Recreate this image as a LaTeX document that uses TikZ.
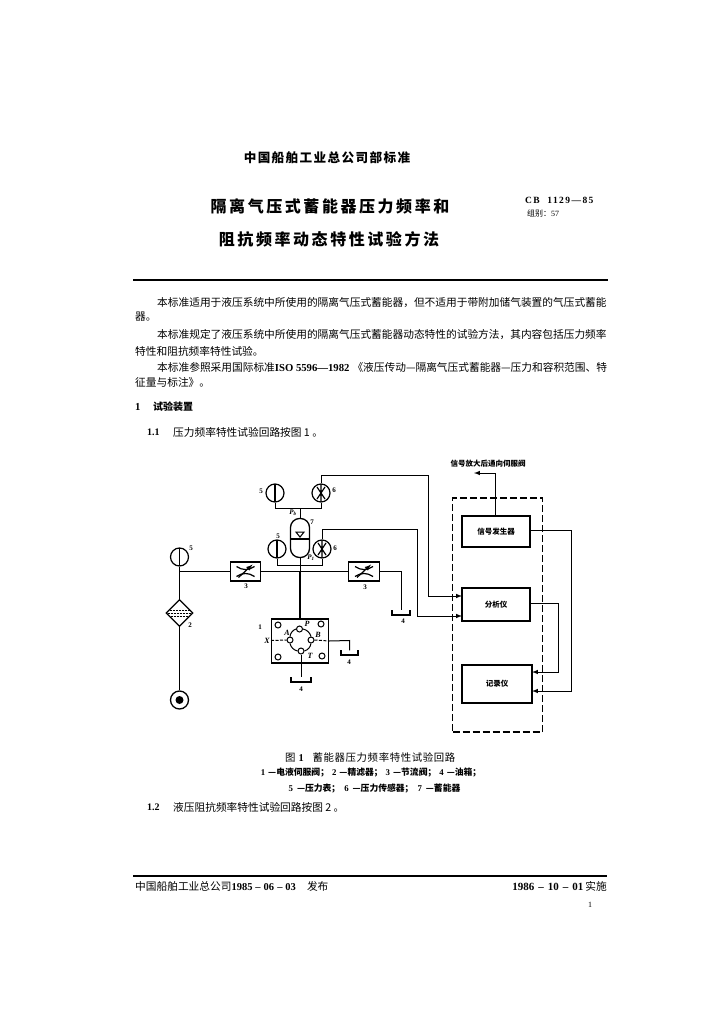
\documentclass[tikz,border=0pt]{standalone}
\usepackage{fontspec}
\setmainfont{Noto Sans CJK SC}
\newfontfamily\latfont{Liberation Serif}
\newfontfamily\codefont[LetterSpace=15]{Liberation Serif}
\newfontfamily\headfont[LetterSpace=11]{Noto Sans CJK SC}
\newfontfamily\titlefont[LetterSpace=16]{Noto Sans CJK SC}
\newfontfamily\capfont[LetterSpace=6]{Noto Sans CJK SC}
\newcommand{\dategap}[1]{\hspace{#1}–\hspace{#1}}
\usetikzlibrary{shapes.geometric}
\pgfdeclarelayer{bg}
\pgfsetlayers{bg,main}
\tikzset{
    body/.style={anchor=west, inner sep=0pt, font=\fontsize{10.7}{12}\selectfont},
    small/.style={anchor=center, inner sep=0pt, font=\bfseries\fontsize{8.8}{10}\selectfont},
    tag/.style={anchor=center, inner sep=0pt, font=\latfont\bfseries\fontsize{7}{8}\selectfont},
    port/.style={anchor=center, inner sep=0pt, font=\latfont\bfseries\itshape\fontsize{8}{9}\selectfont},
    wire/.style={line width=1pt},
    heavy/.style={line width=1.7pt},
    gauge/.style={circle, draw, line width=1.2pt, minimum size=18pt, inner sep=0pt,
        path picture={\draw[line width=1.5pt] (path picture bounding box.south) -- (path picture bounding box.north);}},
    sensor/.style={circle, draw, line width=1.2pt, minimum size=18pt, inner sep=0pt,
        path picture={\draw[line width=1.2pt, shift={(path picture bounding box.center)}]
            (-4,-6) -- (4,6) (4,-6) -- (-4,6) (0,-9) -- (0,9);}},
    throttle/.style={rectangle, draw, line width=1.3pt, minimum width=30.5pt, minimum height=19pt, inner sep=0pt,
        path picture={\draw[line width=1.2pt, shift={(path picture bounding box.center)}]
            (-9,-5) to[bend right=35] (9,-5) (-9,5) to[bend left=35] (9,5);
            \draw[line width=1.2pt, ->, >=latex, shift={(path picture bounding box.center)}] (-7,6) -- (7,-7);}},
    filterbox/.style={diamond, draw, line width=1.3pt, minimum width=27pt, minimum height=27pt, inner sep=0pt,
        path picture={\draw[line width=0.9pt, dashed, dash pattern=on 2pt off 1pt, shift={(path picture bounding box.center)}]
            (-10,-3) -- (10,-3) (-12,0) -- (12,0) (-9,3) -- (9,3);}},
    pump/.style={circle, draw, line width=1.3pt, minimum size=18pt, inner sep=0pt,
        path picture={\fill (path picture bounding box.center) circle (4pt);}},
    hole/.style={circle, draw, line width=1pt, minimum size=6pt, inner sep=0pt},
    tank/.style={minimum width=17pt, minimum height=4pt, inner sep=0pt},
    unit/.style={rectangle, draw, line width=1.5pt, inner sep=0pt, font=\fontsize{7.5}{9}\selectfont\bfseries},
}
\begin{document}
\begin{tikzpicture}[x=1pt, y=-1pt]
    \useasboundingbox (0,0) rectangle (724,1024);

    \node (head) [inner sep=0pt, font=\headfont\bfseries\fontsize{12.6}{14}\selectfont] at (327,158) {中国船舶工业总公司部标准};
    \node (title1) [inner sep=0pt, font=\titlefont\bfseries\fontsize{16}{18}\selectfont] at (330,206) {隔离气压式蓄能器压力频率和};
    \node (title2) [inner sep=0pt, font=\titlefont\bfseries\fontsize{16}{18}\selectfont] at (329,239) {阻抗频率动态特性试验方法};
    \node (code) [anchor=west, inner sep=0pt, font=\codefont\bfseries\fontsize{9.5}{10}\selectfont] at (525,200.5) {CB\ \ 1129—85};
    \node (group) [anchor=west, inner sep=0pt, font=\fontsize{8}{9}\selectfont] at (527,213) {组别：{\latfont 57}};

    \coordinate (rule1a) at (133,280);
    \coordinate (rule1b) at (608,280);
    \draw[heavy] (rule1a) -- (rule1b);

    \node (p1a) [body] at (157,303) {本标准适用于液压系统中所使用的隔离气压式蓄能器，但不适用于带附加储气装置的气压式蓄能};
    \node (p1b) [body] at (135,317) {器。};
    \node (p2a) [body] at (157,335) {本标准规定了液压系统中所使用的隔离气压式蓄能器动态特性的试验方法，其内容包括压力频率};
    \node (p2b) [body] at (135,351) {特性和阻抗频率特性试验。};
    \node (p3a) [body] at (157,367) {本标准参照采用国际标准{\latfont\bfseries ISO 5596—1982}\hspace{3pt}《液压传动—隔离气压式蓄能器—压力和容积范围、特};
    \node (p3b) [body] at (135,382) {征量与标注》。};
    \node (sec1) [body] at (135,407) {\latfont\bfseries 1};
    \node (sec1t) [body, font=\bfseries\fontsize{10}{12}\selectfont] at (153,407) {试验装置};
    \node (sec11) [body, font=\latfont\bfseries\fontsize{10}{12}\selectfont] at (147,432) {1.1};
    \node (sec11t) [body] at (173,432) {压力频率特性试验回路按图 1 。};

    \node (amp) [inner sep=0pt, font=\bfseries\fontsize{7.5}{8}\selectfont] at (488,464) {信号放大后通向伺服阀};

    \node (g5a) [gauge] at (275,493) {};
    \node (s6a) [sensor] at (321,493) {};
    \node (g5b) [gauge] at (277,549) {};
    \node (s6b) [sensor] at (322,549) {};
    \node (g5c) [gauge] at (179.5,557) {};
    \node (acc) [rectangle, draw, line width=1.3pt, rounded corners=9pt, minimum width=19pt, minimum height=39pt, inner sep=0pt] at (300,538) {};
    \node (bladder) [isosceles triangle, shape border rotate=-90, draw, line width=1pt, inner sep=0pt, isosceles triangle stretches, minimum width=8pt, minimum height=5pt] at (300,534) {};
    \node (v3a) [throttle] at (245.5,571.5) {};
    \node (v3b) [throttle] at (364,571.5) {};
    \node (flt) [filterbox] at (179.5,613) {};
    \node (pmp) [pump] at (179.5,700) {};
    \node (servo) [rectangle, draw, line width=1.4pt, minimum width=57pt, minimum height=44pt, inner sep=0pt] at (300,641) {};

    \node (h1) [hole] at (278,625) {};
    \node (h2) [hole] at (321,624) {};
    \node (h3) [hole] at (278,657) {};
    \node (h4) [hole] at (322,656) {};
    \node (pP) [hole] at (299.5,629) {};
    \node (pA) [hole] at (290,640) {};
    \node (pB) [hole] at (311,640) {};
    \node (pT) [hole] at (301,651) {};

    \node (t1) [tank] at (401,612.5) {};
    \node (t2) [tank] at (349.5,652.5) {};
    \node (t3) [tank, minimum width=20pt] at (301,679.5) {};

    \node (gen) [unit, minimum width=68pt, minimum height=31pt] at (496,531.5) {信号发生器};
    \node (ana) [unit, minimum width=68pt, minimum height=33pt] at (496,604.5) {分析仪};
    \node (rec) [unit, minimum width=70pt, minimum height=38pt] at (497,684) {记录仪};
    \node (panel) [rectangle, draw, dashed, dash pattern=on 7pt off 3pt, line width=1.3pt, minimum width=90pt, minimum height=234pt, inner sep=0pt] at (497.5,615) {};

    \node (l5a) [tag] at (261,491) {5};
    \node (l6a) [tag] at (334,490) {6};
    \node (lPb) [port, font=\latfont\bfseries\itshape\fontsize{7}{8}\selectfont] at (293,513) {P\textsubscript{b}};
    \node (l7) [tag] at (312,522) {7};
    \node (l5b) [tag] at (278,536) {5};
    \node (l6b) [tag] at (335,548) {6};
    \node (lP1) [port, font=\latfont\bfseries\itshape\fontsize{7}{8}\selectfont] at (311,558) {P\textsubscript{1}};
    \node (l5c) [tag] at (191,548) {5};
    \node (l3a) [tag] at (246,586) {3};
    \node (l3b) [tag] at (365,587) {3};
    \node (l2) [tag] at (190,625) {2};
    \node (l1) [tag] at (260,627) {1};
    \node (l4a) [tag] at (403,621) {4};
    \node (l4b) [tag] at (349,662) {4};
    \node (l4c) [tag] at (301,689) {4};
    \node (lA) [port] at (287,633) {A};
    \node (lP) [port] at (307,624) {P};
    \node (lB) [port] at (318,635) {B};
    \node (lT) [port] at (310,656) {T};
    \node (lX) [port] at (267,640.5) {X};

    \node (capt) [inner sep=0pt, font=\capfont\fontsize{10.4}{12}\selectfont, anchor=west] at (285,758) {图\ {\latfont\bfseries 1}\ \ \ 蓄能器压力频率特性试验回路};
    \node (leg1) [small] at (371,773) {{\latfont\bfseries 1}\hspace{3pt}—电液伺服阀；\hspace{3pt}{\latfont\bfseries 2}\hspace{3pt}—精滤器；\hspace{3pt}{\latfont\bfseries 3}\hspace{3pt}—节流阀；\hspace{3pt}{\latfont\bfseries 4}\hspace{3pt}—油箱；};
    \node (leg2) [small] at (374.5,789) {{\latfont\bfseries 5}\hspace{4pt}—压力表；\hspace{4pt}{\latfont\bfseries 6}\hspace{4pt}—压力传感器；\hspace{4pt}{\latfont\bfseries 7}\hspace{4pt}—蓄能器};
    \node (sec12) [body, font=\latfont\bfseries\fontsize{10}{12}\selectfont] at (147,807) {1.2};
    \node (sec12t) [body] at (173,807) {液压阻抗频率特性试验回路按图 2 。};

    \coordinate (rule2a) at (133,876);
    \coordinate (rule2b) at (607,876);
    \draw[heavy] (rule2a) -- (rule2b);

    \node (foot1) [body] at (135,886) {中国船舶工业总公司{\latfont\bfseries\fontsize{10.5}{12}\selectfont 1985\dategap{3pt}06\dategap{3pt}03}\hspace{11pt}发布};
    \node (foot2) [body, anchor=east] at (607,886) {{\latfont\bfseries\fontsize{11}{12}\selectfont 1986\dategap{4pt}10\dategap{4pt}01}\hspace{2pt}实施};
    \node (pageno) [inner sep=0pt, font=\latfont\fontsize{8}{10}\selectfont] at (590,905) {1};

    \coordinate (busT) at (300,508);
    \coordinate (busTl) at (275,508);
    \coordinate (busTr) at (321,508);
    \coordinate (busB) at (300,565);
    \coordinate (busBl) at (277,565);
    \coordinate (busBr) at (322,565);
    \coordinate (main) at (300,571.5);
    \coordinate (mainl) at (179.5,571.5);
    \coordinate (drain) at (401,571.5);
    \coordinate (xend) at (271,640.5);
    \coordinate (bturn) at (349.5,640.5);
    \coordinate (ampend) at (474,473);
    \coordinate (ampturn) at (495,473);
    \coordinate (topA) at (428,475);
    \coordinate (midA) at (417,529);
    \coordinate (inA) at (462,596);
    \coordinate (inB) at (462,616);
    \coordinate (genout) at (530,530);
    \coordinate (genturn) at (571,530);
    \coordinate (recin1) at (532,691);
    \coordinate (recin2) at (532,672);
    \coordinate (anaout) at (530,603);
    \coordinate (anaturn) at (558,603);
    \coordinate (sepl) at (290.5,539);
    \coordinate (sepr) at (309.5,539);

    \begin{pgfonlayer}{bg}
        \draw[wire] (g5a.south) |- (busTl) -- (busTr) -- (s6a.south);
        \draw[wire] (busT) -- (acc.north);
        \draw[wire] (g5b.south) |- (busBl) -- (busBr) -- (s6b.south);
        \draw[wire] (acc.south) -- (main);
        \draw[wire] (mainl) -- (v3a.west);
        \draw[wire] (v3a.east) -- (v3b.west);
        \draw[wire] (v3b.east) -- (drain) -- (t1.north);
        \draw[wire] (g5c.south) -- (mainl);
        \draw[wire] (mainl) -- (flt.north);
        \draw[wire] (flt.south) -- (pmp.north);
        \draw[wire, line width=1.3pt] (main) -- (servo.north);
        \draw[wire] (pT.south) -- (t3.north);
        \draw[wire, dashed, dash pattern=on 3pt off 1.5pt] (xend) -- (pA.west);
        \draw[wire, dashed, dash pattern=on 3pt off 1.5pt] (pB.east) -- (servo.east);
        \draw[wire] (servo.east) -- (bturn) -- (t2.north);
        \draw[wire] (pP.west) to[bend right=30] (pA.north);
        \draw[wire] (pP.east) to[bend left=30] (pB.north);
        \draw[wire] (pA.south) to[bend right=30] (pT.west);
        \draw[wire] (pB.south) to[bend left=30] (pT.east);
        \draw[wire, ->, >=latex] (gen.north -| ampturn) -- (ampturn) -- (ampend);
        \draw[wire, ->, >=latex] (s6a.north) |- (topA) |- (inA);
        \draw[wire, ->, >=latex] (s6b.north) |- (midA) |- (inB);
        \draw[wire, ->, >=latex] (genout) -- (genturn) |- (recin1);
        \draw[wire, ->, >=latex] (anaout) -- (anaturn) |- (recin2);
    \end{pgfonlayer}

    \draw[line width=2.5pt] (sepl) -- (sepr);
    \draw[heavy] (t1.north west) -- (t1.south west) -- (t1.south east) -- (t1.north east);
    \draw[heavy] (t2.north west) -- (t2.south west) -- (t2.south east) -- (t2.north east);
    \draw[heavy] (t3.north west) -- (t3.south west) -- (t3.south east) -- (t3.north east);
\end{tikzpicture}
\end{document}
